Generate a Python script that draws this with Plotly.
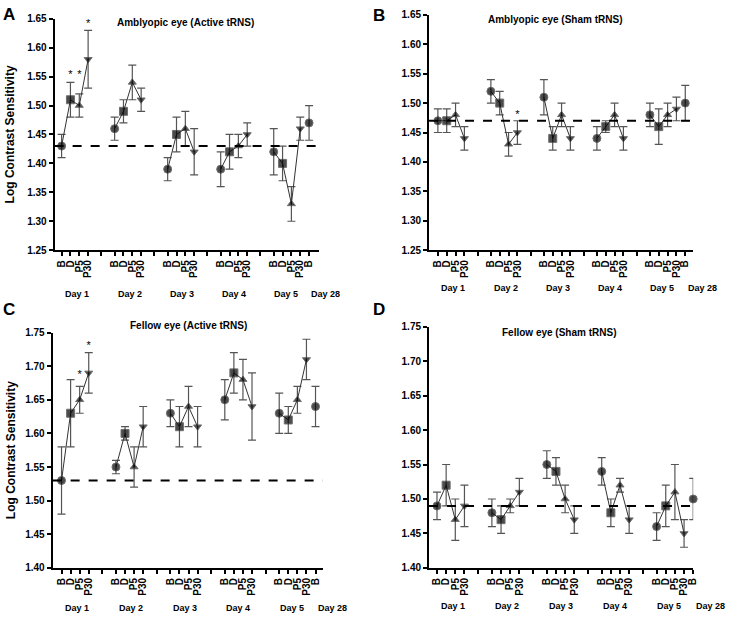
import plotly.graph_objects as go

W, H = 729, 620

# ---- data ----
positions = [0, 1, 2, 3, 6, 7, 8, 9, 12, 13, 14, 15, 18, 19, 20, 21, 24, 25, 26, 27, 28]
cat_labels = ["B", "D", "P5", "P30"] * 5 + ["B"]
gap_ticks = [4.5, 10.5, 16.5, 22.5]
day_labels = ["Day 1", "Day 2", "Day 3", "Day 4", "Day 5", "Day 28"]
day_label_x = [1.7, 7.7, 13.6, 19.5, 25.4, 29.9]
symbols_cycle = ["circle", "square", "triangle-up", "triangle-down"]

A_mean = [1.43, 1.51, 1.50, 1.58, 1.46, 1.49, 1.54, 1.51, 1.39, 1.45, 1.46, 1.42,
          1.39, 1.42, 1.43, 1.45, 1.42, 1.40, 1.33, 1.46, 1.47]
A_err = [0.02, 0.03, 0.02, 0.05, 0.02, 0.02, 0.03, 0.02, 0.02, 0.03, 0.03, 0.04,
         0.03, 0.03, 0.02, 0.02, 0.04, 0.03, 0.03, 0.02, 0.03]
A_base = 1.43
A_star_idx = [1, 2, 3]
A_star_y = [1.552, 1.552, 1.641]

B_mean = [1.47, 1.47, 1.48, 1.44, 1.52, 1.50, 1.43, 1.45, 1.51, 1.44, 1.48, 1.44,
          1.44, 1.46, 1.48, 1.44, 1.48, 1.46, 1.48, 1.49, 1.50]
B_err = [0.02, 0.02, 0.02, 0.02, 0.02, 0.02, 0.02, 0.02, 0.03, 0.02, 0.02, 0.02,
         0.02, 0.01, 0.02, 0.02, 0.02, 0.03, 0.02, 0.02, 0.03]
B_base = 1.47
B_star_idx = [7]
B_star_y = [1.479]

C_mean = [1.53, 1.63, 1.65, 1.69, 1.55, 1.60, 1.55, 1.61, 1.63, 1.61, 1.64, 1.61,
          1.65, 1.69, 1.68, 1.64, 1.63, 1.62, 1.65, 1.71, 1.64]
C_err = [0.05, 0.05, 0.02, 0.03, 0.01, 0.01, 0.03, 0.03, 0.02, 0.03, 0.03, 0.03,
         0.03, 0.03, 0.03, 0.05, 0.03, 0.02, 0.02, 0.03, 0.03]
C_base = 1.53
C_star_idx = [2, 3]
C_star_y = [1.686, 1.729]

D_mean = [1.49, 1.52, 1.47, 1.49, 1.48, 1.47, 1.49, 1.51, 1.55, 1.54, 1.50, 1.47,
          1.54, 1.48, 1.52, 1.47, 1.46, 1.49, 1.51, 1.45, 1.50]
D_err = [0.02, 0.03, 0.03, 0.03, 0.02, 0.02, 0.01, 0.02, 0.02, 0.02, 0.02, 0.02,
         0.02, 0.02, 0.01, 0.02, 0.02, 0.03, 0.04, 0.02, 0.03]
D_base = 1.49
D_star_idx = []
D_star_y = []

FONT = "Liberation Sans, Arial, sans-serif"


def PX(x):
    return x / W


def PY(y):
    return 1 - y / H


panels = [
    dict(letter="A", title="Amblyopic eye (Active tRNS)", mean=A_mean, err=A_err, base=A_base,
         sidx=A_star_idx, sy=A_star_y, yr=[1.25, 1.65], box=(55, 321, 13, 249), xr=[-0.79, 29.1],
         ytitle=True, title_y=17, title_x=187, day_y=294, letter_xy=(9, 9)),
    dict(letter="B", title="Amblyopic eye (Sham tRNS)", mean=B_mean, err=B_err, base=B_base,
         sidx=B_star_idx, sy=B_star_y, yr=[1.25, 1.65], box=(432, 698, 9, 249), xr=[-1.0, 28.9],
         ytitle=False, title_y=14, title_x=559, day_y=288, letter_xy=(382, 10)),
    dict(letter="C", title="Fellow eye (Active tRNS)", mean=C_mean, err=C_err, base=C_base,
         sidx=C_star_idx, sy=C_star_y, yr=[1.40, 1.75], box=(53, 325, 333, 573), xr=[-0.98, 28.8],
         ytitle=True, title_y=326, title_x=190, day_y=614, letter_xy=(9, 309)),
    dict(letter="D", title="Fellow eye (Sham tRNS)", mean=D_mean, err=D_err, base=D_base,
         sidx=D_star_idx, sy=D_star_y, yr=[1.40, 1.75], box=(432, 698, 327, 573), xr=[-0.87, 28.0],
         ytitle=False, title_y=333, title_x=563, day_y=612, letter_xy=(382, 309)),
]

fig = go.Figure()
annotations = []
shapes = []


def ytick_vals(yr):
    vals = []
    v = yr[0]
    while v <= yr[1] + 1e-9:
        vals.append(round(v, 2))
        v += 0.05
    return vals


for i, p in enumerate(panels):
    n = "" if i == 0 else str(i + 1)
    xa, ya = "x" + n, "y" + n
    l, r, t, b = p["box"]
    groups = [list(range(g * 4, g * 4 + 4)) for g in range(5)] + [[20]]
    for g in groups:
        fig.add_trace(go.Scatter(
            x=[positions[k] for k in g],
            y=[p["mean"][k] for k in g],
            error_y=dict(type="data", array=[p["err"][k] for k in g], color="#555555",
                         thickness=1.2, width=4),
            mode="lines+markers",
            line=dict(color="#333333", width=1),
            marker=dict(symbol=[symbols_cycle[k % 4] if k < 20 else "circle" for k in g],
                        size=[8 if (k == 20 or symbols_cycle[k % 4] in ("circle", "square")) else 7 for k in g],
                        color="black"),
            xaxis=xa, yaxis=ya, showlegend=False, cliponaxis=False, hoverinfo="skip",
        ))
    if p["sidx"]:
        fig.add_trace(go.Scatter(
            x=[positions[k] for k in p["sidx"]], y=p["sy"], mode="text", text=["*"] * len(p["sidx"]),
            textfont=dict(family=FONT, size=11, color="black"),
            xaxis=xa, yaxis=ya, showlegend=False, cliponaxis=False, hoverinfo="skip",
        ))
    dom_x = [PX(l), PX(r)]
    dom_y = [PY(b), PY(t)]
    tickvals = positions + gap_ticks
    ticktext = cat_labels + [""] * len(gap_ticks)
    xkw = dict(domain=dom_x, range=p["xr"], anchor=ya, showline=True, linewidth=2, linecolor="black",
               ticks="outside", ticklen=4, tickwidth=1.5, tickcolor="black",
               tickvals=tickvals, ticktext=ticktext, tickangle=-90, showgrid=False, zeroline=False,
               tickfont=dict(family=FONT, size=10, color="black", weight="bold"))
    yv = ytick_vals(p["yr"])
    ykw = dict(domain=dom_y, range=p["yr"], anchor=xa, showline=True, linewidth=2, linecolor="black",
               ticks="outside", ticklen=4, tickwidth=1.5, tickcolor="black",
               tickvals=yv, ticktext=["%.2f" % v for v in yv],
               showgrid=False, zeroline=False,
               tickfont=dict(family=FONT, size=10, color="black", weight="bold"))
    fig.layout["xaxis" + n] = xkw
    fig.layout["yaxis" + n] = ykw
    shapes.append(dict(type="line", xref=xa + " domain", yref=ya, x0=0, x1=1, y0=p["base"], y1=p["base"],
                       line=dict(color="black", width=2, dash="dash")))
    annotations.append(dict(text="<b>%s</b>" % p["title"], xref="paper", yref="paper",
                            x=PX(p["title_x"]), y=PY(p["title_y"]), showarrow=False,
                            xanchor="center", yanchor="middle",
                            font=dict(family=FONT, size=10, color="black")))
    annotations.append(dict(text="<b>%s</b>" % p["letter"], xref="paper", yref="paper",
                            x=PX(p["letter_xy"][0]), y=PY(p["letter_xy"][1]), showarrow=False,
                            xanchor="center", yanchor="middle",
                            font=dict(family=FONT, size=17, color="black")))
    x0, x1 = p["xr"]
    for dl, dx in zip(day_labels, day_label_x):
        pxpos = l + (dx - x0) / (x1 - x0) * (r - l)
        annotations.append(dict(text="<b>%s</b>" % dl, xref="paper", yref="paper", x=PX(pxpos),
                                y=PY(p["day_y"]), showarrow=False, xanchor="center", yanchor="middle",
                                font=dict(family=FONT, size=9, color="black")))
    if p["ytitle"]:
        annotations.append(dict(text="<b>Log Contrast Sensitivity</b>", xref="paper", yref="paper",
                                x=PX(11), y=PY((t + b) / 2), showarrow=False, textangle=-90,
                                xanchor="center", yanchor="middle",
                                font=dict(family=FONT, size=12, color="black")))

fig.update_layout(width=W, height=H, margin=dict(l=0, r=0, t=0, b=0),
                  paper_bgcolor="white", plot_bgcolor="white", hovermode=False,
                  annotations=annotations, shapes=shapes)
fig.write_html("out.html", config={"displayModeBar": False},
               post_script="document.body.style.margin='0';document.body.style.overflow='hidden';")
